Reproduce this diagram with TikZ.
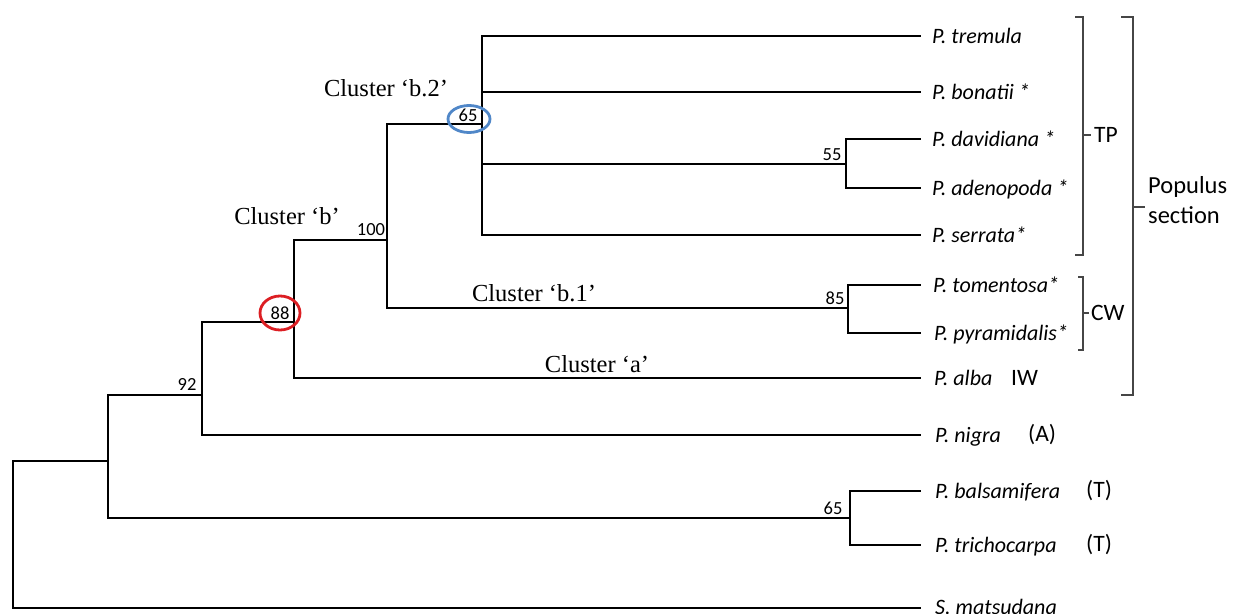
\documentclass[tikz,border=0pt]{standalone}
\usepackage{fontspec}
\usetikzlibrary{shapes.geometric}
\setmainfont{Liberation Serif}
\newfontfamily\calib{Carlito}
\definecolor{ringblue}{RGB}{80,135,200}
\definecolor{ringred}{RGB}{220,30,35}
\definecolor{brk}{RGB}{70,70,70}
\begin{document}
\begin{tikzpicture}[x=1pt,y=-1pt,
  branch/.style={line width=2.4pt,line cap=rect},
  taxon/.style={anchor=base west,inner sep=0pt,font=\calib\itshape\fontsize{22}{22}\selectfont},
  grp/.style={anchor=west,inner sep=0pt,font=\calib\fontsize{23.5}{26}\selectfont},
  boot/.style={inner sep=0pt,font=\calib\fontsize{18.5}{18}\selectfont},
  clab/.style={inner sep=0pt,font=\fontsize{24.5}{24}\selectfont},
  bracket/.style={draw=brk,line width=1.3pt},
  ring/.style={draw,ellipse,line width=2.8pt}]
\useasboundingbox (0,0) rectangle (1233,613);
% internal nodes
\coordinate (root) at (13,461);
\coordinate (nA) at (108,461);
\coordinate (n92) at (202,395);
\coordinate (n88) at (294,322);
\coordinate (n100) at (387,240);
\coordinate (n65) at (482,124);
\coordinate (n55) at (846,164);
\coordinate (n85) at (848,308);
\coordinate (nB) at (850,518);
% leaves
\coordinate (tremula) at (920,36);
\coordinate (bonatii) at (920,92);
\coordinate (davidiana) at (920,139);
\coordinate (adenopoda) at (920,188);
\coordinate (serrata) at (920,235);
\coordinate (tomentosa) at (920,285);
\coordinate (pyramidalis) at (920,333);
\coordinate (alba) at (920,378);
\coordinate (nigra) at (920,435);
\coordinate (balsamifera) at (920,491);
\coordinate (trichocarpa) at (920,545);
\coordinate (matsudana) at (920,608);
% tree
\draw[branch] (root) |- (nA);
\draw[branch] (root) |- (matsudana);
\draw[branch] (nA) |- (n92);
\draw[branch] (nA) |- (nB);
\draw[branch] (n92) |- (n88);
\draw[branch] (n92) |- (nigra);
\draw[branch] (n88) |- (n100);
\draw[branch] (n88) |- (alba);
\draw[branch] (n100) |- (n65);
\draw[branch] (n100) |- (n85);
\draw[branch] (n65) |- (tremula);
\draw[branch] (n65) |- (bonatii);
\draw[branch] (n65) |- (n55);
\draw[branch] (n65) |- (serrata);
\draw[branch] (n55) |- (davidiana);
\draw[branch] (n55) |- (adenopoda);
\draw[branch] (n85) |- (tomentosa);
\draw[branch] (n85) |- (pyramidalis);
\draw[branch] (nB) |- (balsamifera);
\draw[branch] (nB) |- (trichocarpa);
% taxon labels
\node[taxon] (Ltremula) at (932,43) {P. tremula};
\node[taxon] (Lbonatii) at (932,99) {P. bonatii *};
\node[taxon] (Ldavidiana) at (932,146) {P. davidiana *};
\node[taxon] (Ladenopoda) at (932,195) {P. adenopoda *};
\node[taxon] (Lserrata) at (932,242) {P. serrata*};
\node[taxon] (Ltomentosa) at (933,292) {P. tomentosa*};
\node[taxon] (Lpyramidalis) at (934,340) {P. pyramidalis*};
\node[taxon] (Lalba) at (934,385) {P. alba};
\node[taxon] (Lnigra) at (935,442) {P. nigra};
\node[taxon] (Lbalsamifera) at (935,498) {P. balsamifera};
\node[taxon] (Ltrichocarpa) at (935,552) {P. trichocarpa};
\node[taxon] (Lmatsudana) at (935,614) {S. matsudana};
% group codes
\node[grp] (IW) at (1011,378) {IW};
\node[grp] (A) at (1028,435) {(A)};
\node[grp] (T1) at (1086,491) {(T)};
\node[grp] (T2) at (1086,545) {(T)};
% bootstrap values
\node[boot] (b92) at (187,384) {92};
\node[boot] (b88) at (280,313) {88};
\node[boot] (b100) at (371,230) {100};
\node[boot] (b65) at (468,115) {65};
\node[boot] (b55) at (832,155) {55};
\node[boot] (b85) at (835,298) {85};
\node[boot] (b65b) at (833,508) {65};
% rings
\node[ring,draw=ringblue,minimum width=42pt,minimum height=27pt] (ring65) at (469,119) {};
\node[ring,draw=ringred,minimum width=40pt,minimum height=34pt] (ring88) at (280,313) {};
% cluster labels
\node[clab] (Cb2) at (386,88) {Cluster ‘b.2’};
\node[clab] (Cb) at (287,216) {Cluster ‘b’};
\node[clab] (Cb1) at (534,293) {Cluster ‘b.1’};
\node[clab] (Ca) at (597,364) {Cluster ‘a’};
% brackets
\coordinate (tpT) at (1083,17);
\coordinate (tpB) at (1083,255);
\coordinate (tpM) at (1083,135);
\draw[bracket] (1075,17) -- (tpT) -- (tpB) -- (1075,255);
\draw[bracket] (tpM) -- (1091,135);
\node[grp] (TP) at (1094,135) {TP};
\coordinate (cwT) at (1083,277);
\coordinate (cwB) at (1083,350);
\coordinate (cwM) at (1083,313);
\draw[bracket] (1078,277) -- (cwT) -- (cwB) -- (1078,350);
\draw[bracket] (cwM) -- (1089,313);
\node[grp] (CW) at (1091,313) {CW};
\coordinate (poT) at (1133,17);
\coordinate (poB) at (1133,395);
\coordinate (poM) at (1133,207);
\draw[bracket] (1121,17) -- (poT) -- (poB) -- (1121,395);
\draw[bracket] (poM) -- (1145,207);
\node[grp,align=left,anchor=west,font=\calib\fontsize{24.5}{30}\selectfont] (Pop) at (1148,200) {Populus\\section};
\end{tikzpicture}
\end{document}
